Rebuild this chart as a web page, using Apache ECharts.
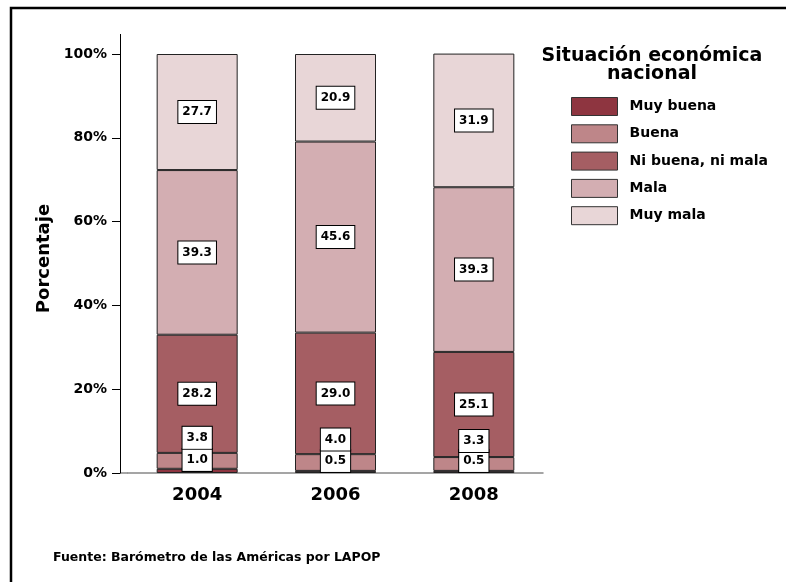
<!DOCTYPE html>
<html>
<head>
<meta charset="utf-8">
<script src="https://cdn.jsdelivr.net/npm/echarts@6/dist/echarts.min.js"></script>
<style>
  html, body { margin: 0; padding: 0; background: #fff; }
  #chart { width: 786px; height: 582px; }
</style>
</head>
<body>
<div id="chart"></div>
<script>
// años y porcentajes
const years = ['2004', '2006', '2008']
const muyBuena = [1.0, 0.5, 0.5]
const buena = [3.8, 4.0, 3.3]
const niBuenaNiMala = [28.2, 29.0, 25.1]
const mala = [39.3, 45.6, 39.3]
const muyMala = [27.7, 20.9, 31.9]
const yTicks = [0, 20, 40, 60, 80, 100]

const FONT = 'DejaVu Sans'
const colors = ['#8e3540', '#be8689', '#a55e63', '#d3aeb2', '#e8d6d7']

const chart = echarts.init(document.getElementById('chart'), null, { renderer: 'canvas' })

function boxLabel(offset) {
  return {
    show: true,
    position: 'inside',
    offset: offset || [0, 0],
    formatter: p => p.value.toFixed(1),
    fontFamily: FONT,
    fontWeight: 'bold',
    fontSize: 12,
    color: '#000',
    backgroundColor: '#fff',
    borderColor: '#000',
    borderWidth: 1,
    padding: [5, 4]
  }
}

function makeSeries(name, data, color, offset) {
  return {
    name: name,
    type: 'bar',
    stack: 'total',
    barWidth: 81,
    data: data,
    itemStyle: { color: color, borderColor: '#222', borderWidth: 1 },
    label: boxLabel(offset),
    emphasis: { disabled: true }
  }
}

chart.setOption({
  animation: false,
  backgroundColor: '#fff',
  textStyle: { fontFamily: FONT },
  grid: { left: 128, right: 243, top: 54, bottom: 109 },
  legend: {
    orient: 'vertical',
    left: 566,
    top: 92,
    itemWidth: 46,
    itemHeight: 18,
    itemGap: 8.3,
    icon: 'rect',
    selectedMode: false,
    itemStyle: { borderColor: '#333', borderWidth: 1 },
    textStyle: { fontFamily: FONT, fontWeight: 'bold', fontSize: 14, color: '#000', padding: [0, 0, 0, 7] },
    data: ['Muy buena', 'Buena', 'Ni buena, ni mala', 'Mala', 'Muy mala']
  },
  xAxis: {
    type: 'category',
    data: years,
    axisLine: { lineStyle: { color: '#888', width: 1.5 } },
    axisTick: { show: false },
    axisLabel: { fontFamily: FONT, fontWeight: 'bold', fontSize: 18, color: '#000', margin: 13 }
  },
  yAxis: {
    type: 'value',
    min: yTicks[0],
    max: yTicks[yTicks.length - 1],
    interval: 20,
    offset: 8,
    name: 'Porcentaje',
    nameLocation: 'middle',
    nameGap: 56,
    nameTextStyle: { fontFamily: FONT, fontWeight: 'bold', fontSize: 18, color: '#000', padding: [0, 0, 0, 10] },
    axisLine: { show: true, lineStyle: { color: '#000', width: 1 } },
    axisTick: { show: true, length: 8, lineStyle: { color: '#000' } },
    splitLine: { show: false },
    axisLabel: { formatter: '{value}%', fontFamily: FONT, fontWeight: 'bold', fontSize: 14, color: '#000', margin: 13 }
  },
  series: [
    makeSeries('Muy buena', muyBuena, colors[0], [0, -11]),
    makeSeries('Buena', buena, colors[1], [0, -23]),
    makeSeries('Ni buena, ni mala', niBuenaNiMala, colors[2]),
    makeSeries('Mala', mala, colors[3]),
    makeSeries('Muy mala', muyMala, colors[4])
  ],
  graphic: [
    // marco exterior (cortado a la derecha y abajo)
    { type: 'rect', shape: { x: 11, y: 8, width: 820, height: 620 }, style: { fill: 'none', stroke: '#000', lineWidth: 2.5 }, silent: true },
    // prolongación del eje y por encima de 100% y del eje x hasta el eje y
    { type: 'line', shape: { x1: 120.5, y1: 34, x2: 120.5, y2: 54 }, style: { stroke: '#000', lineWidth: 1 }, silent: true },
    { type: 'line', shape: { x1: 120, y1: 473, x2: 128, y2: 473 }, style: { stroke: '#888', lineWidth: 1.5 }, silent: true },
    {
      type: 'text', x: 652, y: 47, silent: true,
      style: {
        text: 'Situación económica\nnacional', align: 'center', verticalAlign: 'top',
        font: 'bold 19px "DejaVu Sans"', lineHeight: 18, fill: '#000'
      }
    },
    {
      type: 'text', x: 53, y: 551, silent: true,
      style: { text: 'Fuente: Barómetro de las Américas por LAPOP', font: 'bold 12.5px "DejaVu Sans"', fill: '#000' }
    }
  ]
})
</script>
</body>
</html>
